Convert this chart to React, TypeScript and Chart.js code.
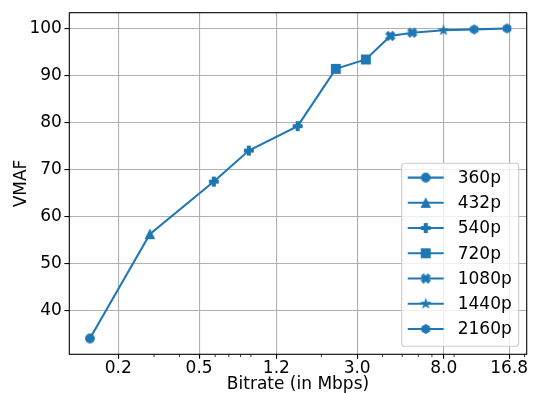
import React, { useEffect, useRef } from 'react';
import { Chart, registerables } from 'chart.js';

Chart.register(...registerables);

// ---------- data ----------
const resolutions = ['360p', '432p', '540p', '720p', '1080p', '1440p', '2160p'];
const markerShapes = ['circle', 'triangle', 'plusFilled', 'square', 'xFilled', 'star', 'hexagon'];
const bitrates = [0.145, 0.286, 0.591, 0.879, 1.528, 2.355, 3.31, 4.37, 5.6, 7.98, 11.3, 16.4];
const vmafScores = [34.0, 56.2, 67.4, 74.0, 79.2, 91.4, 93.4, 98.4, 99.1, 99.6, 99.8, 100.0];
const pointResolutions = ['360p', '432p', '540p', '540p', '540p', '720p', '720p', '1080p', '1080p', '1440p', '2160p', '2160p'];
const xTickValues = [0.2, 0.5, 1.2, 3.0, 8.0, 16.8];
const xTickLabels = ['0.2', '0.5', '1.2', '3.0', '8.0', '16.8'];
const xMinorTicks = [0.3, 0.4, 0.6, 0.7, 0.8, 0.9, 2, 4, 5, 6, 7, 9, 20];
const yTickValues = [40, 50, 60, 70, 80, 90, 100];
const xTitle = 'Bitrate (in Mbps)';
const yTitle = 'VMAF';

// ---------- styles ----------
const BLUE = '#1f77b4';
const FONT = 'DejaVu Sans';
const FONT_SIZE = 17;
const MS = 8.6;

function makeMarker(shape: string): HTMLCanvasElement {
  const size = 16;
  const c = document.createElement('canvas');
  c.width = size;
  c.height = size;
  const ctx = c.getContext('2d') as CanvasRenderingContext2D;
  ctx.translate(size / 2, size / 2);
  ctx.fillStyle = BLUE;
  ctx.strokeStyle = BLUE;
  ctx.lineWidth = 1.2;
  ctx.lineJoin = 'miter';
  const h = MS / 2;
  const poly = (pts: number[][], scale: number) => {
    pts.forEach(([x, y], i) => {
      if (i === 0) ctx.moveTo(x * scale, -y * scale);
      else ctx.lineTo(x * scale, -y * scale);
    });
    ctx.closePath();
  };
  ctx.beginPath();
  switch (shape) {
    case 'circle':
      ctx.arc(0, 0, h, 0, Math.PI * 2);
      break;
    case 'triangle':
      poly([[0, 1], [-1, -1], [1, -1]], h);
      break;
    case 'square':
      ctx.rect(-h, -h, MS, MS);
      break;
    case 'plusFilled':
      poly([[-1, -3], [1, -3], [1, -1], [3, -1], [3, 1], [1, 1], [1, 3], [-1, 3], [-1, 1], [-3, 1], [-3, -1], [-1, -1]], MS / 6);
      break;
    case 'xFilled':
      poly([[-1, -2], [0, -1], [1, -2], [2, -1], [1, 0], [2, 1], [1, 2], [0, 1], [-1, 2], [-2, 1], [-1, 0], [-2, -1]], MS / 4);
      break;
    case 'star': {
      const pts: number[][] = [];
      for (let i = 0; i < 10; i++) {
        const t = (2 * Math.PI * i) / 10 + Math.PI / 2;
        const r = i % 2 === 0 ? 1 : 0.381966;
        pts.push([r * Math.cos(t), r * Math.sin(t)]);
      }
      poly(pts, h);
      break;
    }
    case 'hexagon': {
      const pts: number[][] = [];
      for (let i = 0; i < 6; i++) {
        const t = (2 * Math.PI * i) / 6 + Math.PI / 2;
        pts.push([Math.cos(t), Math.sin(t)]);
      }
      poly(pts, h);
      break;
    }
  }
  ctx.fill();
  ctx.stroke();
  return c;
}

export default function App() {
  const canvasRef = useRef<HTMLCanvasElement | null>(null);

  useEffect(() => {
    document.body.style.margin = '0';
    const canvas = canvasRef.current;
    if (!canvas) return;
    const markers = markerShapes.map((s) => makeMarker(s));
    const pointStyles = pointResolutions.map((r) => markers[resolutions.indexOf(r)]);

    const framePlugin = {
      id: 'frame',
      afterDatasetsDraw(chart: any) {
        const { ctx, chartArea: ca, scales } = chart;
        ctx.save();
        ctx.strokeStyle = '#000';
        ctx.lineWidth = 0.8;
        xMinorTicks.forEach((v) => {
          const px = scales.x.getPixelForValue(v);
          if (px < ca.left || px > ca.right) return;
          ctx.beginPath();
          ctx.moveTo(px, ca.bottom);
          ctx.lineTo(px, ca.bottom + 2.8);
          ctx.stroke();
        });
        ctx.lineWidth = 1.1;
        ctx.strokeRect(ca.left, ca.top, ca.right - ca.left, ca.bottom - ca.top);
        ctx.restore();
      },
      afterDraw(chart: any) {
        const { ctx, chartArea: ca } = chart;
        const boxW = 117;
        const boxH = 183;
        const bx = ca.right - 8 - boxW;
        const by = ca.bottom - 8 - boxH;
        ctx.save();
        ctx.beginPath();
        ctx.roundRect(bx, by, boxW, boxH, 3);
        ctx.fillStyle = 'rgba(255,255,255,0.8)';
        ctx.fill();
        ctx.strokeStyle = '#cccccc';
        ctx.lineWidth = 1.1;
        ctx.stroke();
        ctx.font = `${FONT_SIZE}px "${FONT}"`;
        ctx.textBaseline = 'middle';
        ctx.textAlign = 'left';
        resolutions.forEach((r, i) => {
          const cy = by + 14.3 + i * 25.23;
          ctx.strokeStyle = BLUE;
          ctx.lineWidth = 2.08;
          ctx.beginPath();
          ctx.moveTo(bx + 6, cy);
          ctx.lineTo(bx + 42, cy);
          ctx.stroke();
          const m = markers[i];
          ctx.drawImage(m, bx + 24 - m.width / 2, cy - m.height / 2);
          ctx.fillStyle = '#000';
          ctx.fillText(r, bx + 56, cy + 1);
        });
        ctx.restore();
      },
    };

    const tickFont = { family: FONT, size: FONT_SIZE };
    const xTitleFont = { family: FONT, size: FONT_SIZE, lineHeight: 1.0 };

    const chart = new Chart(canvas, {
      type: 'scatter',
      data: {
        datasets: [
          {
            data: bitrates.map((x, i) => ({ x, y: vmafScores[i] })),
            borderColor: BLUE,
            backgroundColor: BLUE,
            borderWidth: 2.08,
            showLine: true,
            tension: 0,
            pointStyle: pointStyles as any,
            pointRadius: 5,
            pointHoverRadius: 5,
          },
        ],
      },
      options: {
        responsive: false,
        animation: false,
        events: [],
        layout: { padding: { left: 0, top: 7, right: 7.3, bottom: 0 } },
        plugins: { legend: { display: false }, tooltip: { enabled: false } },
        scales: {
          x: {
            type: 'logarithmic',
            min: 0.1148,
            max: 20.5,
            afterBuildTicks: (s: any) => {
              s.ticks = xTickValues.map((v) => ({ value: v }));
            },
            afterFit: (s: any) => {
              s.height = 38.7;
            },
            ticks: {
              callback: (_v: any, i: number) => xTickLabels[i],
              autoSkip: false,
              maxRotation: 0,
              minRotation: 0,
              padding: 0,
              color: '#000',
              font: tickFont,
            },
            grid: { color: '#b0b0b0', lineWidth: 1.1, tickColor: '#000', tickLength: 4.5, tickWidth: 1.1 },
            border: { display: false },
            title: { display: true, text: xTitle, color: '#000', font: xTitleFont, padding: { top: 0, bottom: 0 } },
          },
          y: {
            type: 'linear',
            min: 30.63,
            max: 103.35,
            afterBuildTicks: (s: any) => {
              s.ticks = yTickValues.map((v) => ({ value: v }));
            },
            afterFit: (s: any) => {
              s.width = 69.3;
            },
            ticks: { color: '#000', font: tickFont, padding: 2.5, callback: (v: any) => String(v) },
            grid: { color: '#b0b0b0', lineWidth: 1.1, tickColor: '#000', tickLength: 4.86, tickWidth: 1.1 },
            border: { display: false },
            title: { display: true, text: yTitle, color: '#000', font: tickFont, padding: { top: 11, bottom: 0 } },
          },
        },
      },
      plugins: [framePlugin],
    } as any);

    return () => chart.destroy();
  }, []);

  return (
    <div style={{ position: 'fixed', left: 0, top: 0, width: 534, height: 393 }}>
      <canvas ref={canvasRef} width={534} height={393} style={{ width: 534, height: 393, display: 'block' }} />
    </div>
  );
}
